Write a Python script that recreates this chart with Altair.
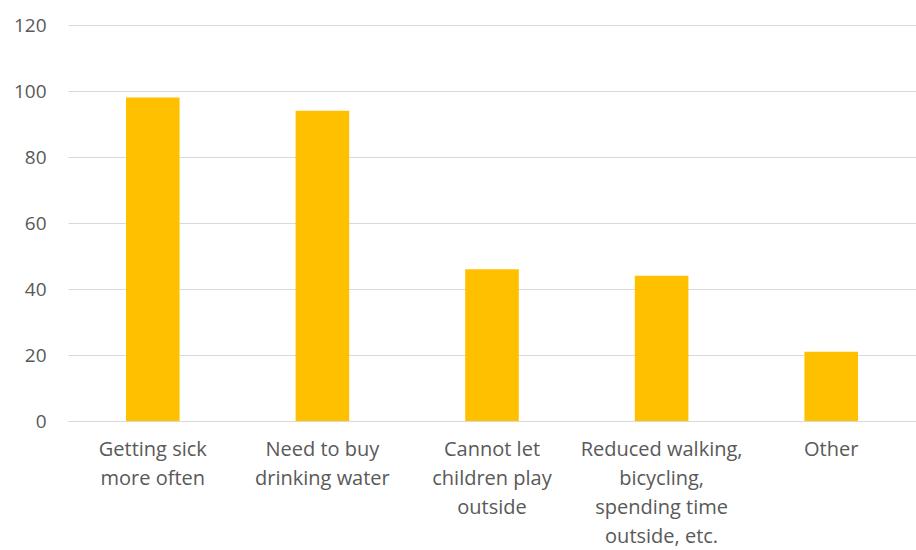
import altair as alt
import pandas as pd

categories = [
    "Getting sick|more often",
    "Need to buy|drinking water",
    "Cannot let|children play|outside",
    "Reduced walking,|bicycling,|spending time|outside, etc.",
    "Other",
]
values = [98, 94, 46, 44, 21]

df = pd.DataFrame({"category": categories, "value": values})

chart = (
    alt.Chart(df)
    .mark_bar(color="#FFC000")
    .encode(
        x=alt.X(
            "category:N",
            sort=categories,
            title=None,
            scale=alt.Scale(paddingInner=0.684, paddingOuter=0.342),
            axis=alt.Axis(
                labelAngle=0,
                labelExpr="split(datum.label, '|')",
                labelLineHeight=29,
                labelPadding=18,
                labelFontSize=20,
                labelColor="#595959",
                labelFont="Open Sans",
                ticks=False,
                domainColor="#D9D9D9",
                domainWidth=1,
                grid=False,
            ),
        ),
        y=alt.Y(
            "value:Q",
            title=None,
            scale=alt.Scale(domain=[0, 120]),
            axis=alt.Axis(
                values=[0, 20, 40, 60, 80, 100, 120],
                labelFontSize=19,
                labelColor="#595959",
                labelFont="Open Sans",
                labelPadding=22,
                ticks=False,
                domain=False,
                gridColor="#D9D9D9",
                gridWidth=1,
            ),
        ),
    )
    .properties(
        width=848,
        height=396,
        autosize=alt.AutoSizeParams(type="none"),
        padding={"left": 68, "top": 25, "right": 0, "bottom": 129},
    )
    .configure(background="white")
    .configure_view(stroke=None)
)

chart.save("out.html", embed_options={"renderer": "svg", "actions": False})
